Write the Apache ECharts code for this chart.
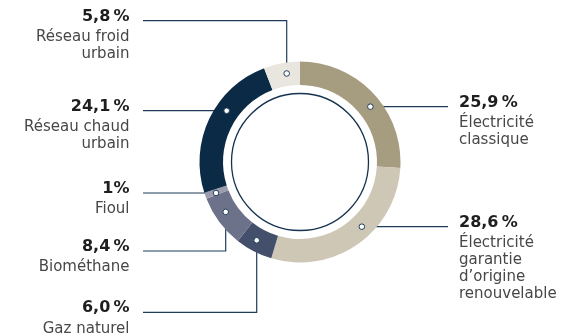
<!DOCTYPE html>
<html lang="fr">
<head>
<meta charset="utf-8">
<title>Mix énergétique</title>
<script src="https://cdn.jsdelivr.net/npm/echarts@6/dist/echarts.min.js"></script>
<style>
  html, body { margin: 0; padding: 0; background: #ffffff; }
  #chart { width: 570px; height: 334px; }
</style>
</head>
<body>
<div id="chart"></div>
<script>
// Energy sources, clockwise from 12 o'clock
const categories = [
  'Électricité classique',
  'Électricité garantie d’origine renouvelable',
  'Gaz naturel',
  'Biométhane',
  'Fioul',
  'Réseau chaud urbain',
  'Réseau froid urbain'
];
const shares = [25.9, 28.6, 6.0, 8.4, 1, 24.1, 5.8];
const valueLabels = ['25,9\u202f%', '28,6\u202f%', '6,0\u202f%', '8,4\u202f%', '1%', '24,1\u202f%', '5,8\u202f%'];
const nameLines = [
  ['Électricité', 'classique'],
  ['Électricité', 'garantie', 'd’origine', 'renouvelable'],
  ['Gaz naturel'],
  ['Biométhane'],
  ['Fioul'],
  ['Réseau chaud', 'urbain'],
  ['Réseau froid', 'urbain']
];
const sliceColors = ['#a69c80', '#cfc7b6', '#434f6b', '#6c728a', '#9b9dae', '#0b2a45', '#e9e5df'];

// Ring geometry
const CX = 300, CY = 162;
const R_IN = 77, R_OUT = 100.5, R_DOT = 89.5, R_GUIDE = 68.5;
const LEFT_TEXT_X = 129.5, RIGHT_TEXT_X = 459;
const LEFT_LINE_END = 143, RIGHT_LINE_END = 448;

// Leader routing: a horizontal run at y, optionally preceded by a vertical run at x
const leaders = [
  { side: 'right', y: 106.7 },
  { side: 'right', y: 226.7 },
  { side: 'left', x: 256.7, y: 312.3 },
  { side: 'left', x: 225.7, y: 251 },
  { side: 'left', y: 193 },
  { side: 'left', y: 110.7 },
  { side: 'left', x: 286.7, y: 20.7 }
];

function leaderPoints(l) {
  let dot;
  if (l.x != null) {
    const dx = l.x - CX;
    const dy = Math.sqrt(R_DOT * R_DOT - dx * dx);
    dot = [l.x, l.y > CY ? CY + dy : CY - dy];
  } else {
    const dy = l.y - CY;
    const dx = Math.sqrt(R_DOT * R_DOT - dy * dy);
    dot = [l.side === 'right' ? CX + dx : CX - dx, l.y];
  }
  const endX = l.side === 'right' ? RIGHT_LINE_END : LEFT_LINE_END;
  const elbow = l.x != null ? [l.x, l.y] : [(dot[0] + endX) / 2, l.y];
  return [dot, elbow, [endX, l.y]];
}
const routes = leaders.map(leaderPoints);

const data = categories.map((name, i) => ({
  name: name,
  value: shares[i],
  itemStyle: { color: sliceColors[i] },
  label: { align: leaders[i].side === 'right' ? 'left' : 'right' }
}));

const chart = echarts.init(document.getElementById('chart'), null, { renderer: 'canvas' });

chart.setOption({
  animation: false,
  backgroundColor: '#ffffff',
  series: [{
    type: 'pie',
    center: [CX, CY],
    radius: [R_IN, R_OUT],
    startAngle: 90,
    clockwise: true,
    avoidLabelOverlap: false,
    silent: true,
    emphasis: { disabled: true },
    itemStyle: { borderWidth: 0 },
    data: data,
    label: {
      show: true,
      position: 'outside',
      fontFamily: 'DejaVu Sans',
      formatter: function (p) {
        const i = p.dataIndex;
        return '{v|' + valueLabels[i] + '}\n' + nameLines[i].map(t => '{n|' + t + '}').join('\n');
      },
      rich: {
        v: { fontFamily: 'DejaVu Sans', fontSize: 16, fontWeight: 'bold', color: '#1e1e1e', lineHeight: 24 },
        n: { fontFamily: 'DejaVu Sans', fontSize: 15, color: '#474747', lineHeight: 17 }
      }
    },
    labelLine: {
      show: true,
      smooth: false,
      lineStyle: { color: '#1f3c58', width: 1.2 }
    },
    labelLayout: function (p) {
      const i = p.dataIndex;
      const l = leaders[i];
      return {
        x: l.side === 'right' ? RIGHT_TEXT_X : LEFT_TEXT_X,
        y: l.y - 16,
        align: l.side === 'right' ? 'left' : 'right',
        verticalAlign: 'top',
        labelLinePoints: routes[i]
      };
    }
  }],
  graphic: [
    {
      type: 'circle',
      z: 100,
      silent: true,
      shape: { cx: CX, cy: CY, r: R_GUIDE },
      style: { fill: 'none', stroke: '#15324e', lineWidth: 1.3 }
    }
  ].concat(routes.map(r => ({
    type: 'circle',
    z: 100,
    silent: true,
    shape: { cx: r[0][0], cy: r[0][1], r: 2.8 },
    style: { fill: '#ffffff', stroke: '#1f3c58', lineWidth: 1 }
  })))
});
</script>
</body>
</html>
